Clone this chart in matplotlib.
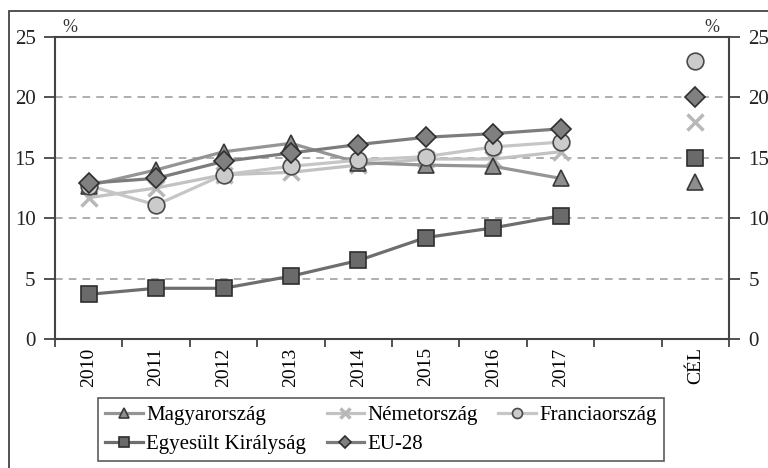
import matplotlib
matplotlib.use('Agg')
import matplotlib.pyplot as plt
from matplotlib.patches import Rectangle

# data
years = ['2010', '2011', '2012', '2013', '2014', '2015', '2016', '2017']
labels = years + ['', 'CÉL']
hu = [12.7, 14.0, 15.5, 16.2, 14.6, 14.4, 14.3, 13.3]
de = [11.7, 12.5, 13.6, 13.8, 14.4, 14.9, 14.9, 15.5]
fr = [12.7, 11.1, 13.6, 14.3, 14.8, 15.1, 15.9, 16.3]
uk = [3.7, 4.2, 4.2, 5.2, 6.5, 8.4, 9.2, 10.2]
eu = [12.9, 13.3, 14.7, 15.4, 16.1, 16.7, 17.0, 17.4]
targets = {'Magyarország': 13, 'Németország': 18, 'Franciaország': 23,
           'Egyesült Királyság': 15, 'EU-28': 20}

plt.rcParams['font.family'] = ['Liberation Serif', 'DejaVu Serif']

fig = plt.figure(figsize=(7.68, 4.68), dpi=100)
ax = fig.add_axes([0.0716, 0.2756, 0.8777, 0.6453])

# outer frame
fig.patches.append(Rectangle((9/768, -0.02), 1.0, 1 - 11/468 + 0.02, transform=fig.transFigure,
                             fill=False, edgecolor='#444444', lw=1.3))

x = list(range(len(years)))
xc = labels.index('CÉL')

styles = {
    'Németország': dict(data=de, color='#c2c2c2', marker='x', mfc='#b8b8b8', mec='#b8b8b8', ms=11, mew=2.5),
    'Magyarország': dict(data=hu, color='#959595', marker='^', mfc='#8e8e8e', mec='#3a3a3a', ms=12, mew=1.2),
    'Franciaország': dict(data=fr, color='#c6c6c6', marker='o', mfc='#cbcbcb', mec='#4a4a4a', ms=12, mew=1.2),
    'Egyesült Királyság': dict(data=uk, color='#6e6e6e', marker='s', mfc='#6a6a6a', mec='#2e2e2e', ms=12, mew=1.2),
    'EU-28': dict(data=eu, color='#7c7c7c', marker='D', mfc='#808080', mec='#2e2e2e', ms=10, mew=1.2),
}
handles = {}
for i, (name, s) in enumerate(styles.items()):
    h, = ax.plot(x, s['data'], color=s['color'], lw=2.3, marker=s['marker'], ms=s['ms'],
                 mfc=s['mfc'], mec=s['mec'], mew=s['mew'], zorder=3 + i, label=name)
    ax.plot([xc], [targets[name]], ls='none', marker=s['marker'], ms=s['ms'],
            mfc=s['mfc'], mec=s['mec'], mew=s['mew'], zorder=3 + i)
    handles[name] = h

ax.set_xlim(-0.5, len(labels) - 0.5)
ax.set_ylim(0, 25)
ax.set_xticks([i - 0.5 for i in range(len(labels) + 1)])
ax.set_xticklabels([])
ax.set_xticks(range(len(labels)), minor=True)
ax.set_xticklabels(labels, minor=True, rotation=90, fontsize=14)
ax.tick_params(axis='x', which='minor', length=0, pad=6)
ax.tick_params(axis='x', which='major', length=6, width=1.3, color='#444444')

ax.set_yticks(range(0, 26, 5))
ax.tick_params(axis='y', labelsize=15, length=8, width=1.3, color='#444444', pad=6,
               right=True, labelright=True)
for t in ax.get_yticklabels():
    t.set_color('#222222')

for y in (5, 10, 15, 20):
    ax.axhline(y, color='#999999', lw=1.1, ls=(0, (5, 4)), zorder=1)

for sp in ax.spines.values():
    sp.set_color('#444444')
    sp.set_linewidth(1.5)

fig.text(70/768, 1 - 27/468, '%', fontsize=13, ha='center', va='center', color='#333333')
fig.text(712/768, 1 - 27/468, '%', fontsize=13, ha='center', va='center', color='#333333')

order = ['Magyarország', 'Egyesült Királyság', 'Németország', 'EU-28', 'Franciaország']
leg = fig.legend([handles[n] for n in order], order, ncol=3, loc='upper left',
                 bbox_to_anchor=(98/768, 1 - 398/468), borderaxespad=0, fontsize=15,
                 frameon=True, fancybox=False, edgecolor='#333333', handlelength=1.8,
                 handletextpad=0.15, columnspacing=1.0, borderpad=0.35, labelspacing=0.45,
                 markerscale=0.6)
leg.get_frame().set_linewidth(1.2)

fig.savefig('out.png', dpi=100)
